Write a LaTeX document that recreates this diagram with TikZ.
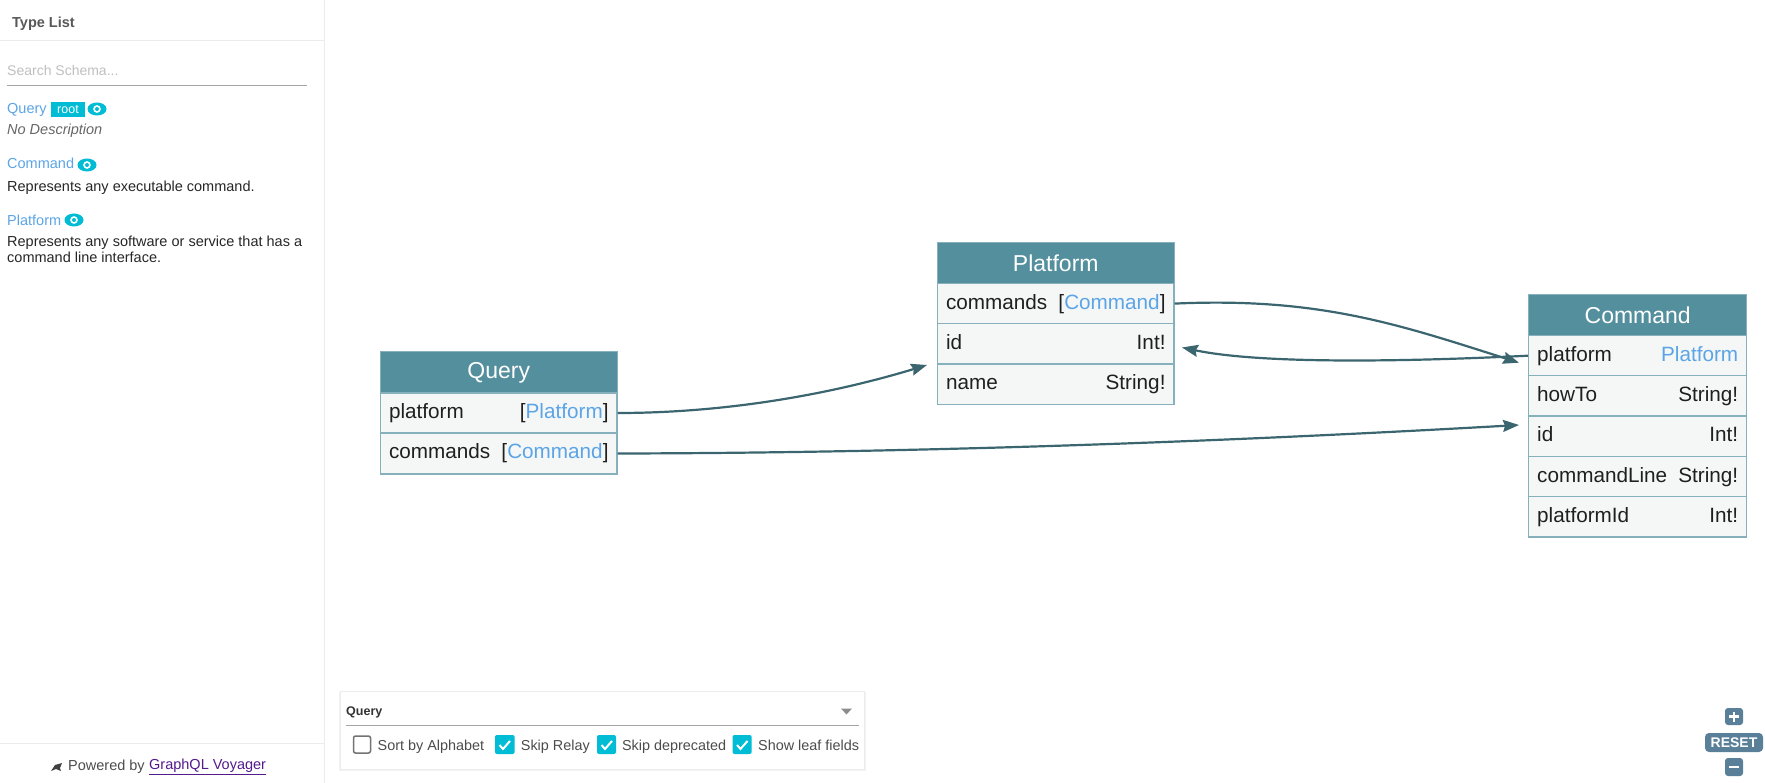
\documentclass[tikz,border=0pt]{standalone}
\usepackage{fontspec}
\setmainfont{Liberation Sans}
\usetikzlibrary{arrows.meta}
\definecolor{headfill}{HTML}{548F9E}
\definecolor{rowfill}{HTML}{F5F7F7}
\definecolor{rowline}{HTML}{86B0BC}
\definecolor{edgecol}{HTML}{3B666F}
\definecolor{linkblue}{HTML}{5BA4E6}
\definecolor{cyanui}{HTML}{00BCD4}
\definecolor{ruleui}{HTML}{ECECEC}
\definecolor{slateui}{HTML}{5A7F99}
\definecolor{visited}{HTML}{551A8B}
\tikzset{
  headbox/.style={draw=rowline, line width=1pt, fill=headfill},
  headtext/.style={text=white, font=\fontsize{23}{26}\selectfont},
  rowbox/.style={draw=rowline, line width=1.4pt, fill=rowfill},
  rowtext/.style={text=black!88, font=\fontsize{20.7}{24}\selectfont, inner xsep=8.5pt, inner ysep=0pt, text height=15pt, text depth=4pt, align=left},
  edge/.style={draw=edgecol, line width=2.2pt, -{Stealth[length=16pt, width=12pt, inset=2pt]}},
  sidetext/.style={anchor=west, inner sep=0pt, text=black!85, font=\fontsize{14.5}{16}\selectfont, align=left},
  sidelink/.style={sidetext, text=linkblue},
  panellabel/.style={anchor=west, inner sep=0pt, text=black!70, text height=11pt, text depth=1pt, font=\fontsize{14.4}{16}\selectfont},
  tick/.style={draw=white, line width=2pt}
}
\begin{document}
\begin{tikzpicture}[x=1pt, y=-1pt]
  \useasboundingbox (0,0) rectangle (1765,783);
  % left list
  \draw[ruleui, line width=1pt] (324,0) -- (324,783);
  \draw[ruleui, line width=1pt] (0,41) -- (324,41);
  \node[sidetext, text=black!65, font=\fontsize{14.5}{16}\selectfont\bfseries] (listhead) at (12,24) {Type List};
  \node[sidetext, text=black!25, font=\fontsize{14}{16}\selectfont] (searchbox) at (7,71) {Search Schema...};
  \draw[black!35, line width=1pt] (7,86) -- (307,86);
  \node[sidelink] (listquery) at (7,110) {Query};
  \draw[fill=cyanui, draw=none] (51,102) rectangle (85,117) node[pos=.5, text=white, font=\fontsize{12.5}{14}\selectfont] (rootbadge) {root};
  \fill[cyanui, even odd rule] (97,109) ellipse (9.5 and 6.5) (97,109) circle (4) (97,109) circle (2);
  \node[sidetext, text=black!60, font=\fontsize{14.5}{16}\selectfont\itshape] (listnodesc) at (7,131) {No Description};
  \node[sidelink] (listcommand) at (7,163.5) {Command};
  \fill[cyanui, even odd rule] (87,165) ellipse (9.5 and 6.5) (87,165) circle (4) (87,165) circle (2);
  \node[sidetext] (listcommanddesc) at (7,187.5) {Represents any executable command.};
  \node[sidelink] (listplatform) at (7,220) {Platform};
  \fill[cyanui, even odd rule] (74,220) ellipse (9.5 and 6.5) (74,220) circle (4) (74,220) circle (2);
  \node[sidetext] (listplatformdesc) at (7,249) {Represents any software or service that has a\\command line interface.};
  \draw[ruleui, line width=1pt] (0,743) -- (324,743);
  \fill[black!75] (51,771) -- (55,765) -- (62,763) -- (60,768) -- (61,771) -- (56,769) -- cycle;
  \node[sidetext, text=black!70] (poweredby) at (68,767) {Powered by};
  \node[sidetext, text=visited] (voyagerlink) at (149,767) {\underline{GraphQL Voyager}};
  % Query
  \draw[headbox] (380.5,352) rectangle (617,393) node[pos=.5, headtext] (queryhead) {Query};
  \draw[rowbox] (380.5,393) rectangle (617,433) node[pos=.5, rowtext, text width=219.5pt] (queryplatform) {platform\hfill[\textcolor{linkblue}{Platform}]};
  \draw[rowbox] (380.5,433) rectangle (617,474) node[pos=.5, rowtext, text width=219.5pt] (querycommands) {commands\hfill[\textcolor{linkblue}{Command}]};
  % Platform
  \draw[headbox] (937.5,242.7) rectangle (1174,283.5) node[pos=.5, headtext] (platformhead) {Platform};
  \draw[rowbox] (937.5,283.5) rectangle (1174,323.7) node[pos=.5, rowtext, text width=219.5pt] (platformcommands) {commands\hfill[\textcolor{linkblue}{Command}]};
  \draw[rowbox] (937.5,323.7) rectangle (1174,364) node[pos=.5, rowtext, text width=219.5pt] (platformid) {id\hfill Int!};
  \draw[rowbox] (937.5,364) rectangle (1174,404.7) node[pos=.5, rowtext, text width=219.5pt] (platformname) {name\hfill String!};
  % Command
  \draw[headbox] (1528.7,295) rectangle (1746.7,335.7) node[pos=.5, headtext] (commandhead) {Command};
  \draw[rowbox] (1528.7,335.7) rectangle (1746.7,375.7) node[pos=.5, rowtext, text width=201pt] (commandplatform) {platform\hfill\textcolor{linkblue}{Platform}};
  \draw[rowbox] (1528.7,375.7) rectangle (1746.7,416) node[pos=.5, rowtext, text width=201pt] (commandhowto) {howTo\hfill String!};
  \draw[rowbox] (1528.7,416) rectangle (1746.7,456.7) node[pos=.5, rowtext, text width=201pt] (commandid) {id\hfill Int!};
  \draw[rowbox] (1528.7,456.7) rectangle (1746.7,496.7) node[pos=.5, rowtext, text width=201pt] (commandline) {commandLine\hfill String!};
  \draw[rowbox] (1528.7,496.7) rectangle (1746.7,537) node[pos=.5, rowtext, text width=201pt] (commandplatformid) {platformId\hfill Int!};
  % edges
  \coordinate (platformport) at (927,365);
  \coordinate (commandport) at (1519,362.7);
  \coordinate (idport) at (1519,425);
  \coordinate (backport) at (1182,347.5);
  \draw[edge] (queryplatform.east) .. controls (730,413) and (835,393) .. (platformport);
  \draw[edge] (querycommands.east) .. controls (900,453) and (1200,443) .. (idport);
  \draw[edge] (platformcommands.east) .. controls (1320,297) and (1400,325) .. (commandport);
  \draw[edge] (commandplatform.west) .. controls (1440,360) and (1270,366) .. (backport);
  % settings panel
  \draw[fill=black!5, draw=none] (339,692) rectangle (866,771);
  \draw[fill=white, draw=ruleui, line width=1pt] (340,691) rectangle (864.6,769);
  \node[panellabel, text=black!80, font=\fontsize{12.5}{14}\selectfont\bfseries] (panelquery) at (346,710) {Query};
  \fill[black!45] (841,708.5) -- (852,708.5) -- (846.5,714.5) -- cycle;
  \draw[black!35, line width=1pt] (346,725) -- (859,725);
  \draw[draw=black!55, line width=1.5pt, rounded corners=2pt] (353.5,736) rectangle (370.5,753);
  \node[panellabel] (sortlabel) at (377.5,745) {Sort by Alphabet};
  \fill[cyanui, rounded corners=2pt] (495,735) rectangle (514.6,754);
  \draw[tick] (499.5,745) -- (503,749) -- (510,741);
  \node[panellabel] (relaylabel) at (520.7,745) {Skip Relay};
  \fill[cyanui, rounded corners=2pt] (597,735) rectangle (616,754);
  \draw[tick] (601.5,745) -- (605,749) -- (612,741);
  \node[panellabel] (deprecatedlabel) at (621.8,745) {Skip deprecated};
  \fill[cyanui, rounded corners=2pt] (732.5,735) rectangle (751.6,754);
  \draw[tick] (737,745) -- (740.5,749) -- (747.5,741);
  \node[panellabel] (leaflabel) at (758,745) {Show leaf fields};
  % zoom buttons
  \fill[slateui, rounded corners=3pt] (1725,708) rectangle (1743,725);
  \draw[white, line width=2.5pt] (1729,716.5) -- (1739,716.5) (1734,711.5) -- (1734,721.5);
  \draw[fill=slateui, draw=none, rounded corners=4pt] (1705,733) rectangle (1763,752) node[pos=.5, text=white, font=\fontsize{14}{16}\selectfont\bfseries] (resetbutton) {RESET};
  \fill[slateui, rounded corners=3pt] (1725,758) rectangle (1743,776);
  \draw[white, line width=2.5pt] (1729,767) -- (1739,767);
\end{tikzpicture}
\end{document}
